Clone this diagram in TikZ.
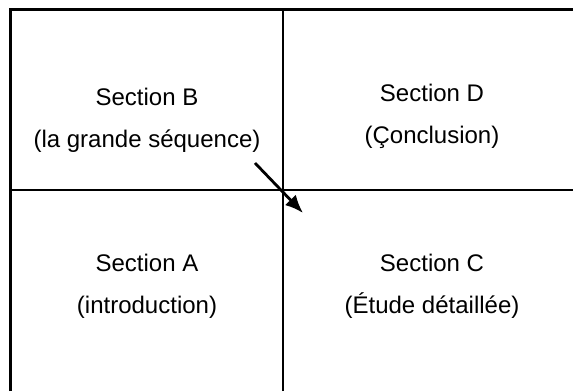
\documentclass[tikz,border=0pt]{standalone}
\usepackage{fontspec}
\setmainfont{Liberation Sans}
\usetikzlibrary{arrows.meta}

\begin{document}
\begin{tikzpicture}[
  x=1pt, y=1pt,
  frame/.style={line width=3pt},
  split/.style={line width=1.6pt},
  part/.style={align=center, font=\fontsize{24}{42}\selectfont},
  move/.style={line width=2.8pt, -{Latex[length=18pt,width=15pt]}},
]
\useasboundingbox (0,0) rectangle (573,391);
% outer frame: top and left edges only
\draw[frame] (10,0) -- (10,381) -- (573,381);
% the two lines splitting the sheet
\draw[split] (10,201) -- (573,201);
\draw[split] (283,0) -- (283,381);
% the four parts
\node[part] (secB) at (147,271) {Section B\\(la grande séquence)};
\node[part] (secD) at (432,275) {Section D\\(Çonclusion)};
\node[part] (secA) at (147,105) {Section A\\(introduction)};
\node[part] (secC) at (432,105) {Section C\\(Étude détaillée)};
% reading order, from B over to C
\coordinate (fromB) at (255,228);
\coordinate (intoC) at (303,178);
\draw[move] (fromB) -- (intoC);
\end{tikzpicture}
\end{document}
